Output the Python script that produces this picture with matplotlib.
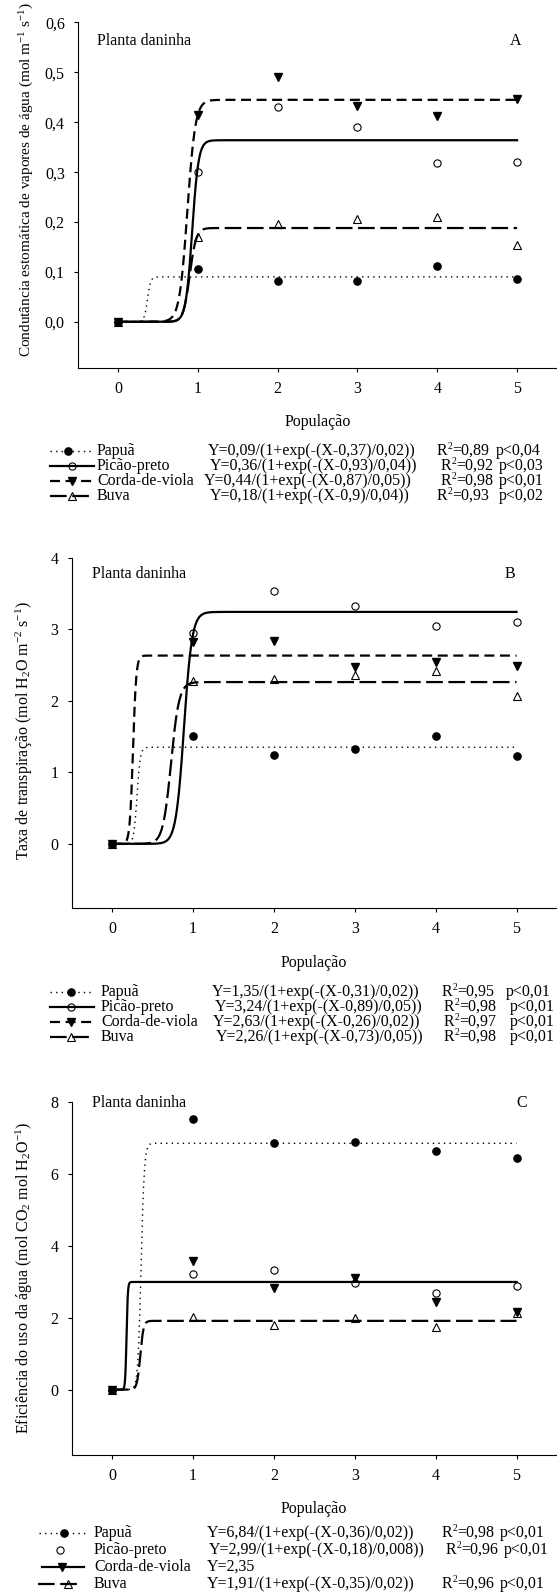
import numpy as np
import matplotlib.pyplot as plt
from matplotlib.lines import Line2D

plt.rcParams['font.family'] = ['Liberation Serif', 'DejaVu Serif']
plt.rcParams['mathtext.fontset'] = 'custom'
plt.rcParams['mathtext.rm'] = 'Liberation Serif'
plt.rcParams['mathtext.it'] = 'Liberation Serif:italic'
plt.rcParams['mathtext.bf'] = 'Liberation Serif:bold'

# ---------- DATA ----------
populacao = [0, 1, 2, 3, 4, 5]
especies = ["Papuã", "Picão-preto", "Corda-de-viola", "Buva"]

# panel A - condutancia estomatica
a_papua = [0, 0.105, 0.081, 0.081, 0.111, 0.085]
a_picao = [0, 0.301, 0.431, 0.391, 0.318, 0.321]
a_corda = [0, 0.415, 0.490, 0.433, 0.413, 0.446]
a_buva = [0, 0.171, 0.197, 0.206, 0.210, 0.153]
# fitted sigmoid (a, x0, b)
a_fits = [(0.09, 0.37, 0.02), (0.364, 0.93, 0.04), (0.445, 0.87, 0.05), (0.188, 0.90, 0.04)]
a_eq = ["Y=0,09/(1+exp(-(X-0,37)/0,02))", "Y=0,36/(1+exp(-(X-0,93)/0,04))",
        "Y=0,44/(1+exp(-(X-0,87)/0,05))", "Y=0,18/(1+exp(-(X-0,9)/0,04))"]
a_r2 = ["0,89", "0,92", "0,98", "0,93"]
a_p = ["p<0,04", "p<0,03", "p<0,01", "p<0,02"]

# panel B - taxa de transpiracao
b_papua = [0, 1.50, 1.24, 1.33, 1.51, 1.23]
b_picao = [0, 2.95, 3.53, 3.32, 3.04, 3.10]
b_corda = [0, 2.82, 2.83, 2.47, 2.54, 2.48]
b_buva = [0, 2.28, 2.30, 2.36, 2.41, 2.07]
b_fits = [(1.35, 0.31, 0.02), (3.24, 0.89, 0.05), (2.63, 0.26, 0.02), (2.26, 0.73, 0.05)]
b_eq = ["Y=1,35/(1+exp(-(X-0,31)/0,02))", "Y=3,24/(1+exp(-(X-0,89)/0,05))",
        "Y=2,63/(1+exp(-(X-0,26)/0,02))", "Y=2,26/(1+exp(-(X-0,73)/0,05))"]
b_r2 = ["0,95", "0,98", "0,97", "0,98"]
b_p = ["p<0,01", "p<0,01", "p<0,01", "p<0,01"]

# panel C - eficiencia do uso da agua
c_papua = [0, 7.51, 6.85, 6.88, 6.63, 6.44]
c_picao = [0, 3.22, 3.31, 2.96, 2.69, 2.87]
c_corda = [0, 3.57, 2.81, 3.10, 2.44, 2.16]
c_buva = [0, 2.02, 1.79, 2.00, 1.74, 2.13]
c_fits = [(6.84, 0.36, 0.02), (2.99, 0.18, 0.008), None, (1.91, 0.35, 0.02)]
c_eq = ["Y=6,84/(1+exp(-(X-0,36)/0,02))", "Y=2,99/(1+exp(-(X-0,18)/0,008))",
        "Y=2,35", "Y=1,91/(1+exp(-(X-0,35)/0,02))"]
c_r2 = ["0,98", "0,96", "", "0,96"]
c_p = ["p<0,01", "p<0,01", "", "p<0,01"]

# ---------- STYLES ----------
W, H = 557, 1596
FS = 11.5
line_styles = [dict(ls=(0, (1, 3)), lw=1.0),
               dict(ls='-', lw=1.6),
               dict(ls=(0, (4.5, 2.5)), lw=1.6),
               dict(ls=(0, (7.5, 2.5)), lw=1.6)]
marker_styles = [dict(marker='o', ms=5.2, mfc='black', mec='black'),
                 dict(marker='o', ms=5.2, mfc='none', mec='black', mew=0.8),
                 dict(marker='v', ms=6, mfc='black', mec='black'),
                 dict(marker='^', ms=6, mfc='none', mec='black', mew=0.8)]


def fx(px):
    return px / W


def fy(py):
    return 1 - py / H


fig = plt.figure(figsize=(W / 100, H / 100), dpi=100)
renderer = fig.canvas.get_renderer()


def sigmoid_curve(fit):
    a, x0, b = fit
    xs = np.linspace(0, 5, 1500)
    return xs, a / (1 + np.exp(-(xs - x0) / b))


# ---------- PANEL ----------
def panel(left, top, bottom, ylim, yticks, ylabels, series, fits, letter, ylab, ylab_y, ylab_fs,
          title_y, title_x):
    ax = fig.add_axes([fx(left), fy(bottom), fx(W - left), fy(top) - fy(bottom)])
    for i, ys in enumerate(series):
        if fits[i] is not None:
            xs, yc = sigmoid_curve(fits[i])
            ax.plot(xs, yc, color='black', **line_styles[i])
    for i, ys in enumerate(series):
        ax.plot(populacao, ys, ls='none', **marker_styles[i])
    ax.set_xlim(-0.5, 5.5)
    ax.set_ylim(*ylim)
    ax.set_xticks(populacao)
    ax.set_yticks(yticks)
    ax.set_yticklabels(ylabels)
    for s in ['top', 'right']:
        ax.spines[s].set_visible(False)
    for s in ['left', 'bottom']:
        ax.spines[s].set_linewidth(0.8)
    ax.tick_params(direction='out', length=3.2, width=0.8, labelsize=FS, pad=6.3)
    ax.patch.set_alpha(0)

    fig.text(fx(title_x), fy(title_y), "Planta daninha", fontsize=FS, va='center', ha='left')
    fig.text(fx(letter[1]), fy(title_y), letter[0], fontsize=FS, va='center', ha='center')
    fig.text(fx((left + W) / 2), fy(bottom + 54.5), "População", fontsize=FS, va='center', ha='center')
    fig.text(fx(ylab[1]), fy(ylab_y), ylab[0], fontsize=ylab_fs, rotation=90, va='center', ha='center')
    return ax


def r2_text(x, y, val):
    # R, raised 2, then =value  (built from plain texts so the boxes stay tight)
    t = fig.text(fx(x), fy(y), "R", fontsize=FS, va='center', ha='left')
    x += t.get_window_extent(renderer).width
    t = fig.text(fx(x), fy(y - 4.5), "2", fontsize=FS * 0.6, va='center', ha='left')
    x += t.get_window_extent(renderer).width
    fig.text(fx(x), fy(y), "=" + val, fontsize=FS, va='center', ha='left')


def legend_rows(rows_y, handles, name_x, eq_x, r2_x, p_x, eqs, r2s, ps):
    for i, y in enumerate(rows_y):
        h = handles[i]
        if h[0] is not None:
            fig.add_artist(Line2D([fx(h[0]), fx(h[1])], [fy(y), fy(y)], transform=fig.transFigure,
                                  color='black', **line_styles[i]))
        fig.add_artist(Line2D([fx(h[2])], [fy(y)], transform=fig.transFigure, ls='none',
                              **marker_styles[i]))
        fig.text(fx(name_x), fy(y), especies[i], fontsize=FS, va='center', ha='left')
        fig.text(fx(eq_x[i]), fy(y), eqs[i], fontsize=FS, va='center', ha='left')
        if r2s[i]:
            r2_text(r2_x[i], y, r2s[i])
            fig.text(fx(p_x[i]), fy(y), ps[i], fontsize=FS, va='center', ha='left')


# A
panel(78, 22.5, 367.7, (-0.092, 0.6), [0, 0.1, 0.2, 0.3, 0.4, 0.5, 0.6],
      ["0,0", "0,1", "0,2", "0,3", "0,4", "0,5", "0,6"],
      [a_papua, a_picao, a_corda, a_buva], a_fits, ("A", 516),
      ("Condutância estomática de vapores de água (mol m$^{-1}$ s$^{-1}$)", 26.6), 180, 11, 41, 97)
legend_rows([451, 466, 481, 496],
            [(50, 94, 68), (50, 94, 72), (50, 94, 72), (50, 94, 72)],
            97, [208, 209.6, 204.3, 209.6], [437, 441, 441, 437], [496, 499, 499, 499],
            a_eq, a_r2, a_p)

# B
panel(71.5, 557.5, 908.3, (-0.9, 4), [0, 1, 2, 3, 4], ["0", "1", "2", "3", "4"],
      [b_papua, b_picao, b_corda, b_buva], b_fits, ("B", 510),
      ("Taxa de transpiração (mol H$_2$O m$^{-2}$ s$^{-1}$)", 24), 731, FS, 574, 92)
legend_rows([992, 1007, 1022, 1037],
            [(50, 94, 71), (50, 94, 71), (50, 94, 71), (50, 94, 71)],
            101, [211.4, 214.9, 212.4, 216], [442, 444, 444, 444], [506, 509.8, 509.8, 509.8],
            b_eq, b_r2, b_p)

# C
panel(71.5, 1101.5, 1454.5, (-1.8, 8), [0, 2, 4, 6, 8], ["0", "2", "4", "6", "8"],
      [c_papua, c_picao, c_corda, c_buva], c_fits, ("C", 522),
      ("Eficiência do uso da água (mol CO$_2$ mol H$_2$O$^{-1}$)", 24), 1278, FS, 1103, 92)
line_styles[2] = dict(ls='-', lw=1.6)
legend_rows([1533, 1550, 1567, 1584],
            [(39, 89, 64), (None, None, 60.4), (42, 83.5, 62), (38, 82, 67.5)],
            94, [207, 209, 207, 207], [442, 446, 446, 442], [500, 504, 504, 500],
            c_eq, c_r2, c_p)

fig.savefig("out.png", dpi=100)
